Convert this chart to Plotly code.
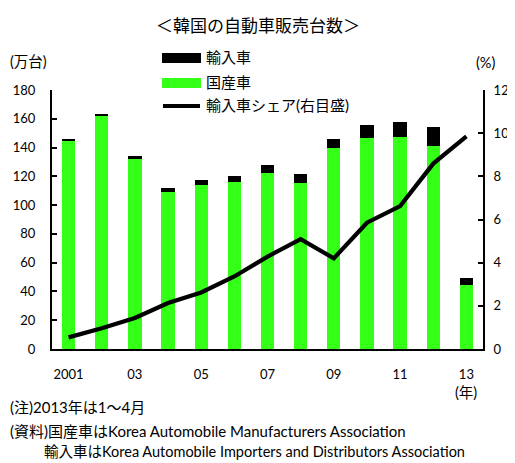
import plotly.graph_objects as go

years = [2001, 2002, 2003, 2004, 2005, 2006, 2007, 2008, 2009, 2010, 2011, 2012, 2013]
domestic = [145.0, 162.0, 131.9, 109.3, 114.3, 116.4, 122.1, 115.4, 139.7, 146.9, 147.4, 141.0, 44.5]
imports = [0.8, 1.6, 1.9, 2.4, 3.1, 4.0, 5.5, 6.2, 6.1, 9.1, 10.4, 13.3, 4.9]
share = [0.54, 0.96, 1.44, 2.13, 2.62, 3.36, 4.28, 5.09, 4.20, 5.85, 6.62, 8.59, 9.85]
xtick_vals = [2001, 2003, 2005, 2007, 2009, 2011, 2013]
xtick_text = ["2001", "03", "05", "07", "09", "11", "13"]

GREEN = "#33FF17"
FONT = "Lato, 'Noto Sans CJK JP', sans-serif"

# page body has an 8px margin; figure is drawn at (8, 8)
OFF = 8
W, H = 515 - OFF, 463 - OFF
# plot area in page pixels (reference coordinates)
L, R, T, B = 52, 483, 90, 349


def fx(px):
    return (px - L) / (R - L)


def fy(py):
    return (B - py) / (B - T)


fig = go.Figure()
fig.add_trace(go.Bar(x=years, y=domestic, name="国産車", marker=dict(color=GREEN, line=dict(width=0)),
                     width=0.4, showlegend=False))
fig.add_trace(go.Bar(x=years, y=imports, name="輸入車", marker=dict(color="black", line=dict(width=0)),
                     width=0.4, showlegend=False))
fig.add_trace(go.Scatter(x=years, y=share, name="輸入車シェア(右目盛)", yaxis="y2", mode="lines",
                         line=dict(color="black", width=4.2), showlegend=False))

shapes = [
    dict(type="rect", xref="paper", yref="paper", x0=fx(162), x1=fx(201), y0=fy(63), y1=fy(53),
         fillcolor="black", line=dict(width=0)),
    dict(type="rect", xref="paper", yref="paper", x0=fx(162), x1=fx(201), y0=fy(88), y1=fy(78),
         fillcolor=GREEN, line=dict(width=0)),
    dict(type="line", xref="paper", yref="paper", x0=fx(163), x1=fx(200), y0=fy(106), y1=fy(106),
         line=dict(color="black", width=4)),
]


def ann(text, px, py, size, xanchor="left"):
    return dict(text=text, xref="paper", yref="paper", x=fx(px), y=fy(py), showarrow=False,
                xanchor=xanchor, yanchor="middle", font=dict(size=size, color="black", family=FONT))


annotations = [
    ann("＜韓国の自動車販売台数＞", 258, 25, 17, "center"),
    ann("輸入車", 204, 57, 15),
    ann("国産車", 204, 82, 15),
    ann("輸入車シェア(右目盛)", 204, 105, 15),
    ann("(万台)", 8, 61, 14.5),
    ann("(%)", 474, 62, 14.5),
    ann("(年)", 466, 392, 14.5, "center"),
    ann("(注)2013年は1～4月", 8, 407, 15),
    ann("(資料)国産車はKorea Automobile Manufacturers Association", 8, 431, 15),
    ann("輸入車はKorea Automobile Importers and Distributors Association", 42, 452, 14.5),
]

fig.update_layout(
    width=W, height=H,
    margin=dict(l=L - OFF, r=515 - R, t=T - OFF, b=463 - B, pad=0),
    paper_bgcolor="white", plot_bgcolor="white",
    barmode="stack",
    font=dict(family=FONT, size=13, color="black"),
    shapes=shapes, annotations=annotations,
    xaxis=dict(range=[2000.5, 2013.5], tickmode="array", tickvals=xtick_vals, ticktext=xtick_text,
               ticks="", showgrid=False, zeroline=False, showline=True, linecolor="black", linewidth=2,
               ticklabelstandoff=12, automargin=False, tickfont=dict(size=13)),
    yaxis=dict(range=[0, 180], dtick=20, ticks="inside", ticklen=5, tickwidth=2, tickcolor="black",
               showgrid=False, zeroline=False, showline=True, linecolor="black", linewidth=2,
               ticklabelstandoff=12, automargin=False, tickfont=dict(size=13)),
    yaxis2=dict(range=[0, 12], dtick=2, overlaying="y", side="right", ticks="inside", ticklen=5,
                tickwidth=2, tickcolor="black", showgrid=False, zeroline=False, showline=True,
                linecolor="black", linewidth=2, ticklabelstandoff=6, automargin=False,
                tickfont=dict(size=13)),
)

fig.write_html("out.html")
